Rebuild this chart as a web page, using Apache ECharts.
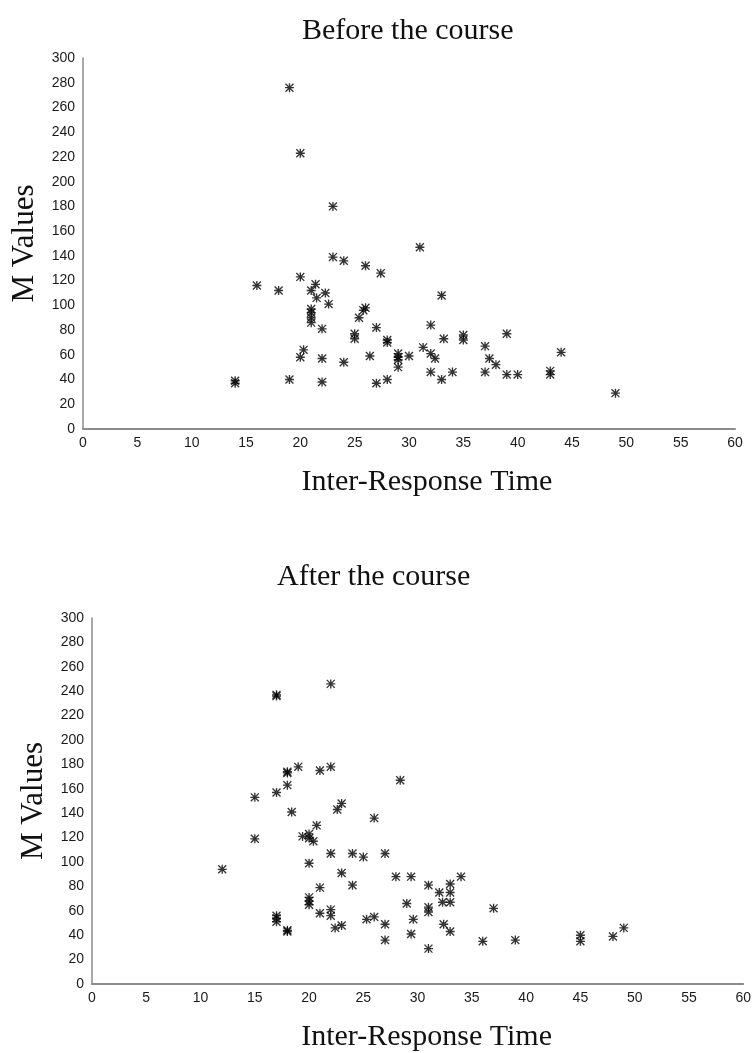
<!DOCTYPE html>
<html>
<head>
<meta charset="utf-8">
<script src="https://cdn.jsdelivr.net/npm/echarts@6/dist/echarts.min.js"></script>
<style>
html,body{margin:0;padding:0;background:#fff;}
#main{width:754px;height:1053px;}
</style>
</head>
<body>
<div id="main"></div>
<script>
/* data */
var beforeX = [19, 20, 23, 31, 23, 24, 26, 27.4, 20, 16, 18, 21.4, 21, 21.5, 22.3, 22.6, 21, 21, 21, 21,
	22, 26, 25.8, 25.4, 27, 25, 25, 28, 28, 20.3, 20, 22, 24, 26.4, 29, 29, 29, 29, 30, 14,
	14, 19, 22, 27, 28, 32, 33, 33.2, 31.3, 32, 32.4, 32, 33, 34, 35, 35, 37, 37.4, 38, 39,
	37, 39, 40, 43, 43, 44, 49];
var beforeY = [276, 223, 180, 147, 139, 136, 132, 126, 123, 116, 112, 117, 112, 106, 110, 101, 97, 94, 90, 86,
	81, 98, 96, 90, 82, 77, 73, 72, 70, 64, 58, 57, 54, 59, 61, 58, 56, 50, 59, 37,
	39, 40, 38, 37, 40, 84, 108, 73, 66, 61, 57, 46, 40, 46, 76, 72, 67, 57, 52, 77,
	46, 44, 44, 47, 44, 62, 29];

var afterX = [17, 17, 22, 15, 17, 18, 18, 18, 19, 18.4, 12, 15, 17, 17, 17, 18, 18, 21, 22, 28.4,
	23, 22.6, 26, 20.7, 19.4, 20, 20, 20.4, 22, 24, 25, 27, 20, 23, 24, 28, 29.4, 31, 21, 20,
	20, 20, 21, 22, 22, 22.4, 23, 25.3, 26, 27, 27, 29, 29.6, 29.4, 31, 31, 31, 32, 33, 33,
	32.3, 33, 34, 32.4, 33, 37, 36, 39, 45, 45, 48, 49];
var afterY = [236, 237, 246, 153, 157, 173, 174, 163, 178, 141, 94, 119, 56, 54, 51, 44, 43, 175, 178, 167,
	148, 143, 136, 130, 121, 123, 119.5, 117, 107, 107, 104, 107, 99, 91, 81, 88, 88, 81, 79, 71,
	68, 65, 58, 61, 56, 46, 48, 53, 55, 49, 36, 66, 53, 41, 63, 59, 29, 75, 82, 75,
	67, 67, 88, 49, 43, 62, 35, 36, 40, 35, 39, 46];

var xTitle = 'Inter-Response Time';
var yTitle = 'M Values';

function pairs(xs, ys) {
	var out = [];
	for (var i = 0; i < xs.length; i++) {
		out.push([xs[i], ys[i]]);
	}
	return out;
}

// asterisk marker: four thin bars
var star = 'path://M8.5 0L11.5 0L11.5 20L8.5 20Z M0 8.5L20 8.5L20 11.5L0 11.5Z ' +
	'M2.2 0.1L19.9 17.8L17.8 19.9L0.1 2.2Z M17.8 0.1L19.9 2.2L2.2 19.9L0.1 17.8Z';

function xAxisOpt(gi, pad) {
	return {
		gridIndex: gi, type: 'value', min: 0, max: 60, interval: 5,
		axisLine: {show: true, lineStyle: {color: '#8c8c8c', width: 2}},
		axisTick: {show: false},
		splitLine: {show: false},
		axisLabel: {color: '#1a1a1a', fontSize: 14, fontFamily: 'Liberation Sans', margin: 7},
		name: xTitle, nameLocation: 'middle', nameGap: 38,
		nameTextStyle: {fontFamily: 'Liberation Serif', fontSize: 30, color: '#111', padding: [0, 0, 0, pad]}
	};
}
function yAxisOpt(gi) {
	return {
		gridIndex: gi, type: 'value', min: 0, max: 300, interval: 20,
		axisLine: {show: true, lineStyle: {color: '#8c8c8c', width: 1.5}},
		axisTick: {show: false},
		splitLine: {show: false},
		axisLabel: {color: '#1a1a1a', fontSize: 14, fontFamily: 'Liberation Sans', margin: 8},
		name: yTitle, nameLocation: 'middle', nameRotate: 90, nameGap: 40,
		nameTextStyle: {fontFamily: 'Liberation Serif', fontSize: 31, color: '#111'}
	};
}

var myChart = echarts.init(document.getElementById('main'), null, {renderer: 'canvas'});
var option = {
	backgroundColor: '#fff',
	animation: false,
	title: [{
		text: 'Before the course', left: 297, top: 11,
		textStyle: {fontFamily: 'Liberation Serif', fontSize: 30, fontWeight: 'normal', color: '#111'}
	}, {
		text: 'After the course', left: 272, top: 557,
		textStyle: {fontFamily: 'Liberation Serif', fontSize: 30, fontWeight: 'normal', color: '#111'}
	}],
	grid: [
		{left: 83, right: 19, top: 58, height: 371},
		{left: 92, right: 10, top: 618, height: 370}
	],
	xAxis: [xAxisOpt(0, 36), xAxisOpt(1, 18)],
	yAxis: [yAxisOpt(0), yAxisOpt(1)],
	series: [{
		type: 'scatter', xAxisIndex: 0, yAxisIndex: 0,
		symbol: star, symbolSize: 9,
		itemStyle: {color: '#000'},
		data: pairs(beforeX, beforeY)
	}, {
		type: 'scatter', xAxisIndex: 1, yAxisIndex: 1,
		symbol: star, symbolSize: 9,
		itemStyle: {color: '#000'},
		data: pairs(afterX, afterY)
	}]
};
myChart.setOption(option);
</script>
</body>
</html>
